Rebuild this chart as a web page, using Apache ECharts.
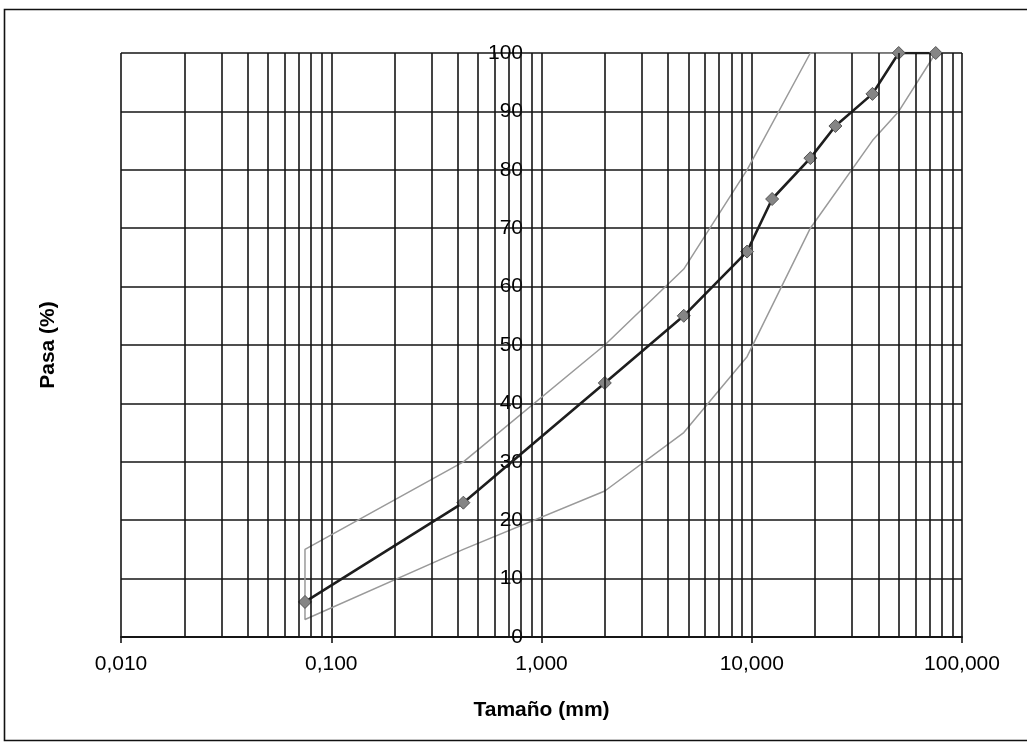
<!DOCTYPE html>
<html>
<head>
<meta charset="utf-8">
<title>Curva granulométrica</title>
<script src="https://cdn.jsdelivr.net/npm/echarts@6/dist/echarts.min.js"></script>
<style>
  html, body { margin: 0; padding: 0; background: #ffffff; }
  #chart { width: 1027px; height: 752px; }
</style>
</head>
<body>
<div id="chart"></div>
<script>
// Sieve sizes (mm) and percent passing of the sample
const sizes = [0.075, 0.425, 2.0, 4.75, 9.5, 12.5, 19.0, 25.0, 37.5, 50.0, 75.0];
const passing = [6, 23, 43.5, 55, 66, 75, 82, 87.5, 93, 100, 100];

// Specification band: upper and lower limits
const upperSizes = [0.075, 0.425, 2.0, 4.75, 9.5, 19.0, 75.0];
const upperLimit = [15, 30, 50, 63, 80, 100, 100];
const lowerSizes = [0.075, 0.425, 2.0, 4.75, 9.5, 19.0, 37.5, 50.0, 75.0];
const lowerLimit = [3, 15, 25, 35, 48, 70, 85, 90, 100];

// Axis ticks
const decadeTicks = [0.01, 0.1, 1, 10, 100];
const yTicks = [0, 10, 20, 30, 40, 50, 60, 70, 80, 90, 100];
const minorMultipliers = [2, 3, 4, 5, 6, 7, 8, 9];

const FONT = '"Liberation Sans", Arial, sans-serif';
const GRID_COLOR = '#151515';
const GRID_WIDTH = 1.6;

// Minor vertical grid lines (2..9 within each decade)
const minorLines = [];
for (let d = 0; d < decadeTicks.length - 1; d++) {
  for (const m of minorMultipliers) {
    minorLines.push({ xAxis: +(decadeTicks[d] * m).toPrecision(3) });
  }
}

// Band drawn as one closed outline: upper limit from coarse to fine, then lower limit back
const band = [];
for (let i = upperSizes.length - 1; i >= 0; i--) band.push([upperSizes[i], upperLimit[i]]);
for (let i = 0; i < lowerSizes.length; i++) band.push([lowerSizes[i], lowerLimit[i]]);

const sample = sizes.map((s, i) => [s, passing[i]]);

const chart = echarts.init(document.getElementById('chart'), null, { renderer: 'canvas' });

chart.setOption({
  backgroundColor: '#ffffff',
  animation: false,
  textStyle: { fontFamily: FONT },
  grid: { left: 121, right: 65, top: 53, bottom: 115, containLabel: false },
  graphic: [
    {
      type: 'rect',
      silent: true,
      shape: { x: 4.5, y: 9.5, width: 1040, height: 731 },
      style: { fill: 'none', stroke: '#111', lineWidth: 1.6 }
    }
  ],
  xAxis: {
    type: 'log',
    logBase: 10,
    min: decadeTicks[0],
    max: decadeTicks[decadeTicks.length - 1],
    name: 'Tamaño (mm)',
    nameLocation: 'middle',
    nameGap: 63,
    nameTextStyle: { fontSize: 21, fontWeight: 'bold', color: '#000', fontFamily: FONT },
    axisLine: { show: true, lineStyle: { color: GRID_COLOR, width: 1.8 } },
    axisTick: { show: true, length: 6, lineStyle: { color: GRID_COLOR, width: 1.6 } },
    axisLabel: {
      margin: 17,
      fontSize: 21,
      color: '#000',
      fontFamily: FONT,
      formatter: v => v.toFixed(3).replace('.', ',')
    },
    splitLine: { show: true, lineStyle: { color: GRID_COLOR, width: GRID_WIDTH } }
  },
  yAxis: {
    type: 'value',
    min: yTicks[0],
    max: yTicks[yTicks.length - 1],
    interval: 10,
    offset: -406,
    name: 'Pasa (%)',
    nameLocation: 'middle',
    nameGap: 468,
    nameTextStyle: { fontSize: 21, fontWeight: 'bold', color: '#000', fontFamily: FONT },
    axisLine: { show: false },
    axisTick: { show: false },
    axisLabel: { margin: 4, fontSize: 21, color: '#000', fontFamily: FONT },
    splitLine: { show: true, lineStyle: { color: GRID_COLOR, width: GRID_WIDTH } }
  },
  series: [
    {
      name: 'grid-minor',
      type: 'line',
      data: [],
      silent: true,
      markLine: {
        silent: true,
        symbol: ['none', 'none'],
        label: { show: false },
        lineStyle: { color: GRID_COLOR, width: GRID_WIDTH, type: 'solid' },
        data: minorLines
      },
      z: 1
    },
    {
      name: 'Límites',
      type: 'line',
      data: band,
      showSymbol: false,
      symbol: 'none',
      lineStyle: { color: '#9a9a9a', width: 1.5 },
      z: 3
    },
    {
      name: 'Muestra',
      type: 'line',
      data: sample,
      symbol: 'diamond',
      symbolSize: 13,
      lineStyle: { color: '#1e1e1e', width: 2.6 },
      itemStyle: { color: '#858585', borderColor: '#555555', borderWidth: 1 },
      z: 4
    }
  ]
});
</script>
</body>
</html>
